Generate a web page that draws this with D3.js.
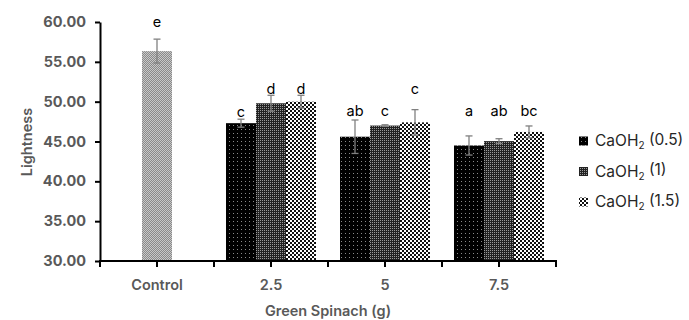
<!DOCTYPE html>
<html><head><meta charset="utf-8">
<script src="https://cdn.jsdelivr.net/npm/d3@7"></script>
<style>body{margin:0;background:#fff}</style>
</head><body>
<script>
const categories = ["Control", "2.5", "5", "7.5"];
const seriesNames = ["CaOH2 (0.5)", "CaOH2 (1)", "CaOH2 (1.5)"];
const controlValue = 56.35, controlErr = 1.5, controlLetter = "e", controlLabelAt = 60.0;
const s05 = [47.3, 45.6, 44.5];
const s1 = [49.8, 47.0, 45.05];
const s15 = [50.0, 47.4, 46.2];
const e05 = [0.5, 2.1, 1.2];
const e1 = [1.0, 0.1, 0.3];
const e15 = [0.8, 1.6, 0.75];
const letters05 = ["c", "ab", "a"];
const letters1 = ["d", "c", "ab"];
const letters15 = ["d", "c", "bc"];
const labelAt05 = [48.7, 48.8, 48.8];
const labelAt1 = [51.6, 48.8, 48.8];
const labelAt15 = [51.6, 51.6, 48.8];
const yTicks = [30, 35, 40, 45, 50, 55, 60];

const W = 689, H = 320;
const svg = d3.select("body").append("svg").attr("width", W).attr("height", H);
const defs = svg.append("defs");

function pat(id, size, bg, draw) {
  const p = defs.append("pattern").attr("id", id).attr("patternUnits", "userSpaceOnUse")
    .attr("width", size).attr("height", size);
  p.append("rect").attr("width", size).attr("height", size).attr("fill", bg);
  draw(p);
}
pat("pCtrl", 2, "#8a8a8a", p => {
  p.append("rect").attr("x", 0).attr("y", 0).attr("width", 1).attr("height", 1).attr("fill", "#c8c8c8");
  p.append("rect").attr("x", 1).attr("y", 1).attr("width", 1).attr("height", 1).attr("fill", "#c8c8c8");
});
pat("p05", 4, "#000", p => {
  p.append("rect").attr("x", 1).attr("y", 1).attr("width", 1).attr("height", 1).attr("fill", "#8a8a8a");
});
pat("p1", 2, "#222", p => {
  p.append("rect").attr("x", 0).attr("y", 0).attr("width", 1).attr("height", 1).attr("fill", "#9a9a9a");
});
pat("p15", 4, "#fff", p => {
  p.append("rect").attr("x", 0).attr("y", 0).attr("width", 2).attr("height", 2).attr("fill", "#111");
  p.append("rect").attr("x", 2).attr("y", 2).attr("width", 2).attr("height", 2).attr("fill", "#111");
});
const fills = ["url(#p05)", "url(#p1)", "url(#p15)"];

const x0 = 100, x1 = 556, yTop = 22, yBot = 261;
const x = d3.scaleBand().domain(categories).range([x0, x1]).padding(0);
const y = d3.scaleLinear().domain([30, 60]).range([yBot, yTop]);
const barW = 30;
const sub = d3.scaleBand().domain([0, 1, 2]).range([-45, 45]).padding(0);

const font = "Inter, 'Open Sans', sans-serif";
const axisGray = "#595959";

const yAxis = svg.append("g").attr("transform", `translate(${x0},0)`)
  .call(d3.axisLeft(y).tickValues(yTicks).tickFormat(d3.format(".2f")).tickSize(5).tickSizeOuter(0));
yAxis.select(".domain").attr("stroke", "#000").attr("stroke-width", 2);
yAxis.selectAll(".tick line").attr("stroke", "#000").attr("stroke-width", 2);
yAxis.selectAll(".tick text").attr("font-family", font).attr("font-size", 14.5).attr("font-weight", 700)
  .attr("fill", axisGray).attr("x", -14);

const cx = c => x(c) + x.bandwidth() / 2;
svg.append("rect").attr("x", cx("Control") - barW / 2).attr("y", y(controlValue))
  .attr("width", barW).attr("height", y(30) - y(controlValue)).attr("fill", "url(#pCtrl)");

const groups = categories.slice(1);
const vals = [s05, s1, s15], errs = [e05, e1, e15], lets = [letters05, letters1, letters15], labs = [labelAt05, labelAt1, labelAt15];
const barData = [];
groups.forEach((g, gi) => {
  vals.forEach((arr, si) => {
    barData.push({cat: g, s: si, v: arr[gi], e: errs[si][gi], l: lets[si][gi], la: labs[si][gi]});
  });
});
svg.selectAll("rect.bar").data(barData).enter().append("rect").attr("class", "bar")
  .attr("x", d => cx(d.cat) + sub(d.s))
  .attr("y", d => y(d.v)).attr("width", barW).attr("height", d => y(30) - y(d.v))
  .attr("fill", d => fills[d.s]);

const errData = [{xc: cx("Control"), v: controlValue, e: controlErr, l: controlLetter, la: controlLabelAt}]
  .concat(barData.map(d => ({xc: cx(d.cat) + sub(d.s) + barW / 2, v: d.v, e: d.e, l: d.l, la: d.la})));
const eg = svg.append("g").attr("stroke", "#808080").attr("stroke-width", 1.3);
errData.forEach(d => {
  eg.append("line").attr("x1", d.xc).attr("x2", d.xc).attr("y1", y(d.v + d.e)).attr("y2", y(d.v - d.e));
  eg.append("line").attr("x1", d.xc - 3.5).attr("x2", d.xc + 3.5).attr("y1", y(d.v + d.e)).attr("y2", y(d.v + d.e));
  eg.append("line").attr("x1", d.xc - 3.5).attr("x2", d.xc + 3.5).attr("y1", y(d.v - d.e)).attr("y2", y(d.v - d.e));
});
svg.selectAll("text.let").data(errData).enter().append("text").attr("class", "let")
  .attr("x", d => d.xc).attr("y", d => y(d.la)).attr("dy", "0.35em").attr("text-anchor", "middle")
  .attr("font-family", font).attr("font-size", 14.5).attr("fill", "#000").text(d => d.l);

const xg = svg.append("g").attr("transform", `translate(0,${yBot})`);
xg.append("line").attr("x1", x0 - 1).attr("x2", x1 + 1).attr("stroke", "#000").attr("stroke-width", 2);
const tickPos = [];
categories.forEach(c => { tickPos.push(x(c)); tickPos.push(cx(c)); });
tickPos.push(x1);
xg.selectAll("line.t").data(tickPos).enter().append("line").attr("class", "t")
  .attr("x1", d => d).attr("x2", d => d).attr("y1", 0).attr("y2", 6).attr("stroke", "#000").attr("stroke-width", 2);
xg.selectAll("text").data(categories).enter().append("text")
  .attr("x", d => cx(d)).attr("y", 29).attr("text-anchor", "middle")
  .attr("font-family", font).attr("font-size", 14.5).attr("font-weight", 600).attr("fill", axisGray).text(d => d);

svg.append("text").attr("x", 328).attr("y", 316).attr("text-anchor", "middle")
  .attr("font-family", font).attr("font-size", 14.5).attr("font-weight", 600).attr("fill", axisGray).text("Green Spinach (g)");
svg.append("text").attr("transform", "translate(32,142) rotate(-90)").attr("text-anchor", "middle")
  .attr("font-family", font).attr("font-size", 14.5).attr("font-weight", 600).attr("fill", axisGray).text("Lightness");

const leg = svg.append("g");
seriesNames.forEach((n, i) => {
  const ly = 141 + i * 30.5;
  leg.append("rect").attr("x", 579).attr("y", ly - 4.5).attr("width", 9).attr("height", 9).attr("fill", fills[i]);
  const m = n.match(/^CaOH2 (.*)$/);
  const t = leg.append("text").attr("x", 595).attr("y", ly).attr("dy", "0.35em")
    .attr("font-family", font).attr("font-size", 15.5).attr("fill", "#262626");
  t.append("tspan").text("CaOH");
  t.append("tspan").attr("font-size", 10).attr("dy", "0.3em").text("2");
  t.append("tspan").attr("dy", "-0.3em").text(" " + m[1]);
});
</script>
</body></html>
